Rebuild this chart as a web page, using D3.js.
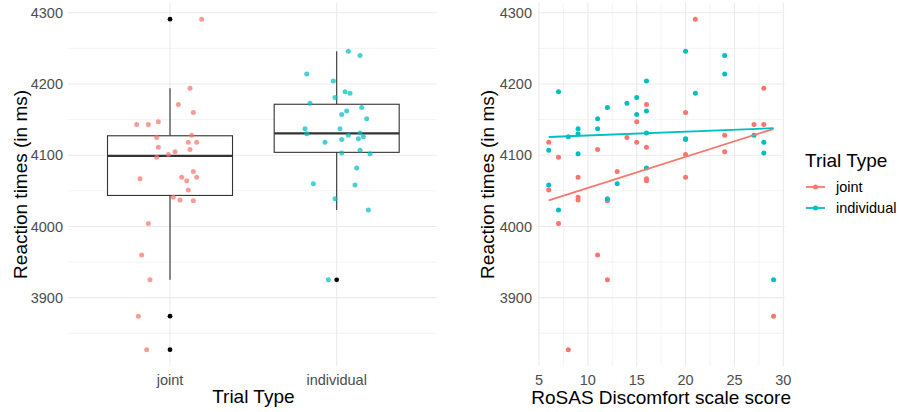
<!DOCTYPE html>
<html>
<head>
<meta charset="utf-8">
<script src="https://cdn.jsdelivr.net/npm/d3@7"></script>
<style>
  body { margin: 0; background: #fff; }
  text { font-family: "Liberation Sans", Arial, sans-serif; }
</style>
</head>
<body>
<div id="chart"></div>
<script>
// data (one value per participant, same order in every array)
const trialTypes = ["joint", "individual"];
const rosasScore = [6, 6, 7, 7, 8, 9, 9, 9, 11, 11, 12, 12, 13, 14, 15, 15,
  16, 16, 16, 16, 20, 20, 20, 21, 24, 24, 27, 28, 28, 29];
const jointRT = [4118, 4051, 4097, 4004, 3827, 4069, 4041, 4037, 4108, 3960, 4036, 3925,
  4077, 4125, 4147, 4118, 4171, 4111, 4067, 4064, 4160, 4101, 4069, 4291, 4128, 4105,
  4143, 4194, 4143, 3874];
const individualRT = [4107, 4058, 4189, 4023, 4126, 4137, 4130, 4102, 4151, 4137, 4167, 4039,
  4060, 4173, 4181, 4157, 4204, 4162, 4131, 4082, 4246, 4123, 4122, 4187, 4240, 4214,
  4128, 4118, 4103, 3925];
// horizontal jitter of the left panel points, in category widths
const jointJitter = [0.11, 0.11, -0.08, -0.13, -0.14, 0.16, 0.02, 0.06, 0.12, -0.17, 0.14, -0.12,
  0.14, -0.08, -0.07, 0.16, 0.05, -0.07, -0.18, 0.10, 0.14, -0.01, 0.07, 0.19, 0.13, 0.03,
  -0.20, 0.12, -0.13, -0.19];
const individualJitter = [0.14, 0.11, 0.05, 0.19, 0.16, 0.02, -0.18, 0.20, 0.18, -0.19, 0.15, -0.01,
  -0.14, -0.16, -0.01, 0.03, -0.02, 0.06, 0.14, 0.12, 0.07, 0.13, 0.03, 0.08, 0.14, -0.18,
  0.07, -0.07, 0.03, -0.05];
const yTicks = [3900, 4000, 4100, 4200, 4300];
const xTicks = [5, 10, 15, 20, 25, 30];

const colors = { joint: "#F8766D", individual: "#00BFC4" };
const width = 899, height = 412;

const series = [
  { type: "joint", rt: jointRT, jitter: jointJitter },
  { type: "individual", rt: individualRT, jitter: individualJitter }
];

const svg = d3.select("#chart").append("svg")
  .attr("width", width)
  .attr("height", height)
  .style("display", "block");

// shared y scale, ggplot style 5% expansion
const allRT = jointRT.concat(individualRT);
const [yMin, yMax] = d3.extent(allRT);
const yPad = (yMax - yMin) * 0.05;
const y = d3.scaleLinear().domain([yMin - yPad, yMax + yPad]).range([366.2, 2.6]);
const yMinor = d3.range(3850, 4300, 100);

const left = { x0: 70, x1: 436.7 };
const right = { x0: 537.5, x1: 784.8 };

const xL = d3.scalePoint().domain(trialTypes).range([left.x0, left.x1]).padding(0.6);
const [sMin, sMax] = d3.extent(rosasScore);
const sPad = (sMax - sMin) * 0.05;
const xR = d3.scaleLinear().domain([sMin - sPad, sMax + sPad]).range([right.x0, right.x1]);
const xMinor = d3.range(7.5, 30, 5);

const gridColor = "#EBEBEB";

function yGrid(g, x0, x1) {
  g.selectAll(".ymin").data(yMinor).join("line")
    .attr("x1", x0).attr("x2", x1)
    .attr("y1", d => y(d)).attr("y2", d => y(d))
    .attr("stroke", gridColor).attr("stroke-width", 0.6);
  g.selectAll(".ymaj").data(yTicks).join("line")
    .attr("x1", x0).attr("x2", x1)
    .attr("y1", d => y(d)).attr("y2", d => y(d))
    .attr("stroke", gridColor).attr("stroke-width", 1.1);
}

function yLabels(g, xEnd) {
  g.selectAll(".ylab").data(yTicks).join("text")
    .attr("x", xEnd).attr("y", d => y(d))
    .attr("dy", "0.35em")
    .attr("text-anchor", "end")
    .attr("font-size", 14.5)
    .attr("fill", "#4D4D4D")
    .text(d => d);
}

function yTitle(g, xBase) {
  g.append("text")
    .attr("transform", `translate(${xBase},${(y.range()[0] + y.range()[1]) / 2}) rotate(-90)`)
    .attr("text-anchor", "middle")
    .attr("font-size", 19)
    .attr("fill", "#000")
    .text("Reaction times (in ms)");
}

// ---------- left panel: box plots ----------
const gL = svg.append("g");
gL.append("g").call(g => yGrid(g, left.x0 - 2, left.x1));
gL.append("g").selectAll("line").data(trialTypes).join("line")
  .attr("x1", d => xL(d)).attr("x2", d => xL(d))
  .attr("y1", y.range()[1]).attr("y2", y.range()[0])
  .attr("stroke", gridColor).attr("stroke-width", 1.1);

const boxW = xL.step() * 0.75;
series.forEach(s => {
  const v = s.rt.slice().sort(d3.ascending);
  const q1 = d3.quantile(v, 0.25), med = d3.quantile(v, 0.5), q3 = d3.quantile(v, 0.75);
  const iqr = q3 - q1;
  const inside = v.filter(d => d >= q1 - 1.5 * iqr && d <= q3 + 1.5 * iqr);
  const lo = d3.min(inside), hi = d3.max(inside);
  const outliers = v.filter(d => d < lo || d > hi);
  const cx = xL(s.type);
  const g = gL.append("g");
  g.append("line").attr("x1", cx).attr("x2", cx).attr("y1", y(hi)).attr("y2", y(q3))
    .attr("stroke", "#333").attr("stroke-width", 1.1);
  g.append("line").attr("x1", cx).attr("x2", cx).attr("y1", y(q1)).attr("y2", y(lo))
    .attr("stroke", "#333").attr("stroke-width", 1.1);
  g.append("rect")
    .attr("x", cx - boxW / 2).attr("width", boxW)
    .attr("y", y(q3)).attr("height", y(q1) - y(q3))
    .attr("fill", "#fff").attr("stroke", "#333").attr("stroke-width", 1.1);
  g.append("line").attr("x1", cx - boxW / 2).attr("x2", cx + boxW / 2)
    .attr("y1", y(med)).attr("y2", y(med))
    .attr("stroke", "#333").attr("stroke-width", 2.2);
  g.selectAll("circle").data(outliers).join("circle")
    .attr("cx", cx).attr("cy", d => y(d)).attr("r", 2.4).attr("fill", "#000");
});

series.forEach(s => {
  gL.append("g").selectAll("circle").data(s.rt).join("circle")
    .attr("cx", (d, i) => xL(s.type) + s.jitter[i] * xL.step())
    .attr("cy", d => y(d))
    .attr("r", 2.5)
    .attr("fill", colors[s.type])
    .attr("fill-opacity", 0.72);
});

yLabels(gL, 63);
yTitle(gL, 26.5);
gL.selectAll(".xlab").data(trialTypes).join("text")
  .attr("x", d => xL(d)).attr("y", 385)
  .attr("text-anchor", "middle")
  .attr("font-size", 14.5)
  .attr("fill", "#4D4D4D")
  .text(d => d);
gL.append("text")
  .attr("x", (left.x0 + left.x1) / 2).attr("y", 403)
  .attr("text-anchor", "middle")
  .attr("font-size", 19)
  .text("Trial Type");

// ---------- right panel: scatter with linear fits ----------
const gR = svg.append("g");
gR.append("g").call(g => yGrid(g, right.x0, right.x1));
gR.append("g").selectAll("line").data(xMinor).join("line")
  .attr("x1", d => xR(d)).attr("x2", d => xR(d))
  .attr("y1", y.range()[1]).attr("y2", y.range()[0])
  .attr("stroke", gridColor).attr("stroke-width", 0.6);
gR.append("g").selectAll("line").data(xTicks).join("line")
  .attr("x1", d => xR(d)).attr("x2", d => xR(d))
  .attr("y1", y.range()[1]).attr("y2", y.range()[0])
  .attr("stroke", gridColor).attr("stroke-width", 1.1);

series.forEach(s => {
  gR.append("g").selectAll("circle").data(s.rt).join("circle")
    .attr("cx", (d, i) => xR(rosasScore[i]))
    .attr("cy", d => y(d))
    .attr("r", 2.5)
    .attr("fill", colors[s.type]);
});

series.forEach(s => {
  const mx = d3.mean(rosasScore), my = d3.mean(s.rt);
  const slope = d3.sum(rosasScore, (d, i) => (d - mx) * (s.rt[i] - my)) /
    d3.sum(rosasScore, d => (d - mx) ** 2);
  const fit = x => my + slope * (x - mx);
  gR.append("line")
    .attr("x1", xR(sMin)).attr("x2", xR(sMax))
    .attr("y1", y(fit(sMin))).attr("y2", y(fit(sMax)))
    .attr("stroke", colors[s.type]).attr("stroke-width", 1.8);
});

yLabels(gR, 532);
yTitle(gR, 494);
gR.selectAll(".xlab").data(xTicks).join("text")
  .attr("x", d => xR(d)).attr("y", 385)
  .attr("text-anchor", "middle")
  .attr("font-size", 14.5)
  .attr("fill", "#4D4D4D")
  .text(d => d);
gR.append("text")
  .attr("x", (right.x0 + right.x1) / 2).attr("y", 404)
  .attr("text-anchor", "middle")
  .attr("font-size", 19)
  .text("RoSAS Discomfort scale score");

// ---------- legend ----------
const legend = svg.append("g").attr("transform", "translate(805,0)");
legend.append("text").attr("x", 0).attr("y", 167)
  .attr("font-size", 19).text("Trial Type");
const items = legend.selectAll(".item").data(trialTypes).join("g")
  .attr("transform", (d, i) => `translate(0,${187 + i * 21})`);
items.append("line").attr("x1", 1).attr("x2", 20).attr("y1", 0).attr("y2", 0)
  .attr("stroke", d => colors[d]).attr("stroke-width", 1.8);
items.append("circle").attr("cx", 10.5).attr("cy", 0).attr("r", 2.5)
  .attr("fill", d => colors[d]);
items.append("text").attr("x", 31).attr("y", 0).attr("dy", "0.35em")
  .attr("font-size", 14.5).attr("fill", "#000")
  .text(d => d);
</script>
</body>
</html>
